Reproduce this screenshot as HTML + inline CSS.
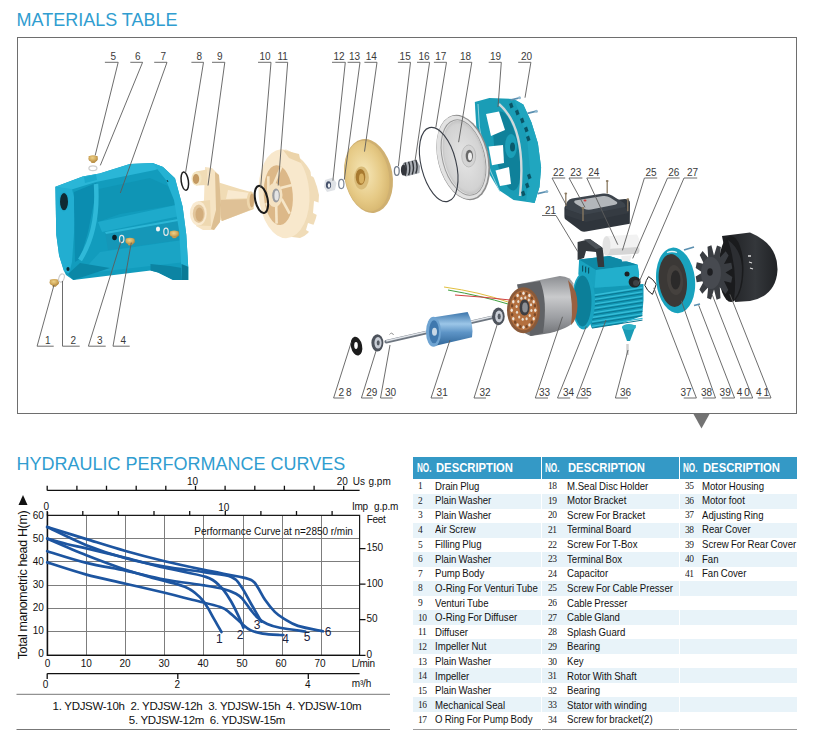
<!DOCTYPE html>
<html><head><meta charset="utf-8"><style>
html,body{margin:0;padding:0;background:#fff;width:818px;height:743px;overflow:hidden}
body{position:relative;font-family:"Liberation Sans", sans-serif}
.t{position:absolute;white-space:nowrap;line-height:1;font-family:"Liberation Sans", sans-serif}
</style></head><body>
<div class="t" style="left:16.5px;top:10.6px;font-size:18px;color:#309dd0">MATERIALS TABLE</div>
<div style="position:absolute;left:17px;top:37px;width:778px;height:375px;border:1px solid #6e6e6e"></div>
<svg style="position:absolute;left:0;top:0" width="818" height="743"><path d="M693.2 413.5H709.8L701.5 428.5Z" fill="#737373"/></svg>
<svg style="position:absolute;left:0;top:0" width="818" height="743" viewBox="0 0 818 743">
<defs>
<linearGradient id="teal" x1="0" y1="0" x2="1" y2="1"><stop offset="0" stop-color="#2fb3c9"/><stop offset="0.5" stop-color="#16a0b9"/><stop offset="1" stop-color="#0c7f97"/></linearGradient>
<linearGradient id="tealb" x1="0" y1="0" x2="1" y2="0"><stop offset="0" stop-color="#1d9fb8"/><stop offset="0.55" stop-color="#27adc4"/><stop offset="1" stop-color="#0f86a0"/></linearGradient>
<linearGradient id="beige" x1="0" y1="0" x2="1" y2="1"><stop offset="0" stop-color="#f6e8c6"/><stop offset="1" stop-color="#dcc491"/></linearGradient>
<radialGradient id="brass" cx="0.45" cy="0.4" r="0.7"><stop offset="0" stop-color="#edd28a"/><stop offset="0.6" stop-color="#cfa658"/><stop offset="1" stop-color="#a07a38"/></radialGradient>
<radialGradient id="impg" cx="0.45" cy="0.45" r="0.65"><stop offset="0" stop-color="#f6e7b8"/><stop offset="0.6" stop-color="#e6ca86"/><stop offset="1" stop-color="#d2b068"/></radialGradient>
<radialGradient id="silver" cx="0.5" cy="0.5" r="0.6"><stop offset="0" stop-color="#e6e6e6"/><stop offset="0.75" stop-color="#d2d2d2"/><stop offset="1" stop-color="#a8a8a8"/></radialGradient>
<linearGradient id="stator" x1="0" y1="0" x2="0" y2="1"><stop offset="0" stop-color="#8c8e92"/><stop offset="0.35" stop-color="#c9cacc"/><stop offset="0.7" stop-color="#9c9ea2"/><stop offset="1" stop-color="#6e7074"/></linearGradient>
<linearGradient id="rotor" x1="0" y1="0" x2="0" y2="1"><stop offset="0" stop-color="#3a74aa"/><stop offset="0.35" stop-color="#9cc6e8"/><stop offset="0.6" stop-color="#5d94c6"/><stop offset="1" stop-color="#2f6598"/></linearGradient>
<linearGradient id="black" x1="0" y1="0" x2="1" y2="0"><stop offset="0" stop-color="#1c1d20"/><stop offset="0.6" stop-color="#34373b"/><stop offset="1" stop-color="#202225"/></linearGradient>
</defs>
<path d="M55.4 186.7 L82.7 176.4 L99.6 173.6 L129.8 164.1 L152.4 163.0 L163.0 167.0 L175.0 178.3 L182.6 206.5 L186.3 234.8 L188.2 266.8 L188.2 280.0 L173.1 280.0 L158.0 272.5 L150.5 270.6 L73.3 280.0 L66.0 275.0 L63.8 270.6 L59.1 255.5 L56.3 234.8 Z" fill="#129cbd"/>
<path d="M94 190 L150 178 L168 186 L176 205 L120 214 L98 222Z" fill="#0f95b5"/>
<path d="M98 222 L176 205 L180 216 L102 232Z" fill="#1eaacb"/>
<path d="M105 232 L178 219 L181 240 L108 250Z" fill="#1597b8"/>
<path d="M105 232 L178 219 L178 221 L106 234Z" fill="#2db7d6"/>
<path d="M100 252 L183 240 L186 262 L150.5 266 L80 274Z" fill="#1aa4c5"/>
<path d="M150.5 264 L170 266 L182 268 L182 280 L173.1 280 L158 272.5 L150.5 270.6Z" fill="#0c84a3"/>
<path d="M55.4 186.7 L82.7 176.4 L99.6 173.6 L129.8 164.1 L152.4 163 L163 167 L155 170 L96 182 L70 190Z" fill="#2ab6d7"/>
<path d="M84 177 L96 174.5 L97 180 L85 183Z" fill="#1ba9cb"/>
<path d="M152.4 163 L163 167 L175 178.3 L182.6 206.5 L186.3 234.8 L188.2 266.8 L188.2 280 L182 280 L181 262 L179 230 L174 200 L166 180Z" fill="#25b2d3"/>
<path d="M181.5 264 L188.2 266.8 L188.2 280 L182 280Z" fill="#0a7a96"/>
<path d="M55.4 186.7 L72 189 L76 205 L72 262 L69 274 L63.8 270.6 L59.1 255.5 L56.3 234.8Z" fill="#22aed1"/>
<path d="M74 192 L96 183 L95 197 L88 232 L80.2 258.8 L75 262 L74 205Z" fill="#0b8db0"/>
<path d="M96 184 Q99 230 80 260" stroke="#2fb9d8" stroke-width="4.5" fill="none"/>
<path d="M68 274 L80 263 L110 268 L73.3 280Z" fill="#0b87a6"/>
<ellipse cx="63.8" cy="201.7" rx="5" ry="10" fill="#1fa9cc"/>
<ellipse cx="64" cy="201.7" rx="4" ry="8.6" fill="#0f2a33"/>
<ellipse cx="68" cy="269" rx="1.6" ry="2" fill="#0f2a33"/>
<ellipse cx="114.5" cy="237.5" rx="2.3" ry="2.8" fill="#0a1f26"/>
<ellipse cx="158" cy="229" rx="2.1" ry="2.6" fill="#f4f4f4"/>
<path d="M167 180 l1 2" stroke="#0a3a45" stroke-width="1"/>
<path d="M88.5 156.0 l9.0 0.0 l0.0 4.0 l-3.0 3.0 l-3.0 0.0Z" fill="url(#brass)"/><ellipse cx="93.0" cy="158.5" rx="4.6" ry="3.3" fill="url(#brass)"/>
<ellipse cx="92.9" cy="168.2" rx="4" ry="2.4" fill="none" stroke="#cfcfcf" stroke-width="1.3"/>
<path d="M49.7 279.8 l9.0 0.0 l0.0 4.0 l-3.0 3.0 l-3.0 0.0Z" fill="url(#brass)"/><ellipse cx="54.2" cy="282.3" rx="4.6" ry="3.3" fill="url(#brass)"/>
<ellipse cx="61.5" cy="278" rx="2.6" ry="4.2" fill="none" stroke="#cfcfcf" stroke-width="1.2" transform="rotate(20 61.5 278)"/>
<ellipse cx="121.7" cy="239" rx="2.2" ry="3.6" fill="none" stroke="#e8e8e8" stroke-width="1.2"/>
<path d="M125.5 238.5 l9.0 0.0 l0.0 4.0 l-3.0 3.0 l-3.0 0.0Z" fill="url(#brass)"/><ellipse cx="130.0" cy="241.0" rx="4.6" ry="3.3" fill="url(#brass)"/>
<ellipse cx="166" cy="231.8" rx="2.2" ry="3.6" fill="none" stroke="#e8e8e8" stroke-width="1.2"/>
<path d="M169.7 231.3 l9.0 0.0 l0.0 4.0 l-3.0 3.0 l-3.0 0.0Z" fill="url(#brass)"/><ellipse cx="174.2" cy="233.8" rx="4.6" ry="3.3" fill="url(#brass)"/>
<ellipse cx="184.8" cy="181.2" rx="3.6" ry="9.2" fill="none" stroke="#1e1e1e" stroke-width="1.5" transform="rotate(-8 184.8 181.2)"/>
<path d="M214 181 L240 189 L251 192 L254 209 L222 221 L212 214Z" fill="#f0dbb4"/>
<path d="M216 200 L252 199 L253 209 L222 221Z" fill="#dfc196"/>
<path d="M228 190 L250 193 L250 198 L226 199Z" fill="#f9ead0"/>
<ellipse cx="250.8" cy="200.5" rx="4" ry="9.2" fill="#eed6ac"/><ellipse cx="251.8" cy="200.5" rx="2.2" ry="7" fill="#cfa978"/>
<path d="M205 167 L212 168 L219 175 L221 205 L220 222 L214 230 L203 230 L196 226 L204 200Z" fill="#f6e4c4"/>
<path d="M215 172 L219 175 L221 205 L220 222 L214 230 L211 229 L216 210Z" fill="#ddbf92"/>
<path d="M196 171.5 L207 169.5 L207 185 L196 185.5Z" fill="#f0dcb6"/>
<ellipse cx="196.5" cy="178.5" rx="5" ry="7" fill="#f3e5c2"/><ellipse cx="196" cy="179" rx="3.2" ry="5" fill="#c49a62"/>
<path d="M198 201.5 L210 200 L211 226 L198 225.5Z" fill="#eed8b0"/>
<ellipse cx="198.3" cy="213.4" rx="8.4" ry="12.2" fill="#f9ead0"/><ellipse cx="198.8" cy="213.8" rx="6" ry="9.2" fill="#e2c69c"/><ellipse cx="199.5" cy="214.5" rx="4" ry="7" fill="#d2ad7c"/>
<path d="M286 149.5 Q312 160 319 195 Q318 232 300 238 L292 237 Q270 228 262 196 Q262 158 286 149.5Z" fill="#f0dcb8"/>
<ellipse cx="284" cy="193.7" rx="25.4" ry="44.5" fill="#f8e8cc" transform="rotate(-4 284 193.7)"/>
<path d="M310 166 L316 168 L316 178 L311 176Z M314 201 L320 203 L319 216 L313 213Z M308 223 L314 225 L311 233 L306 230Z" fill="#ffffff"/>
<path d="M283 150 L299 154 L301 163 L289 158Z" fill="#ecd4aa"/>
<ellipse cx="278.3" cy="195.1" rx="14.5" ry="30" fill="#dcb888" transform="rotate(-4 278.3 195.1)"/>
<path d="M281.6 198.8 L289.7 213.7" stroke="#f6e6c8" stroke-width="2.6"/>
<path d="M276.2 205.8 L276.6 223.6" stroke="#f6e6c8" stroke-width="2.6"/>
<path d="M269.6 202.1 L265.8 204.9" stroke="#f6e6c8" stroke-width="2.6"/>
<path d="M268.4 191.2 L268.3 176.3" stroke="#f6e6c8" stroke-width="2.6"/>
<path d="M273.8 184.2 L281.4 166.4" stroke="#f6e6c8" stroke-width="2.6"/>
<path d="M280.4 187.9 L292.2 185.1" stroke="#f6e6c8" stroke-width="2.6"/>
<ellipse cx="274.7" cy="195.1" rx="7.8" ry="12" fill="#f4e2c2"/>
<ellipse cx="276" cy="195.5" rx="3.8" ry="7" fill="#9a9ca0"/><ellipse cx="276.6" cy="195.5" rx="2.2" ry="5" fill="#e4e4e4"/>
<ellipse cx="261.4" cy="199.4" rx="6.2" ry="13.8" fill="none" stroke="#1a1a1a" stroke-width="2" transform="rotate(-12 261.4 199.4)"/>
<path d="M325 180 L333 177.5 L336.5 183 L335 190 L327 192 L324 187Z" fill="#dfe2e6"/>
<ellipse cx="328.5" cy="185" rx="2.6" ry="3.8" fill="#44506a"/><ellipse cx="329" cy="185.5" rx="1.2" ry="2.2" fill="#f0f2f4"/>
<ellipse cx="341.3" cy="184" rx="2.6" ry="4.6" fill="none" stroke="#7d8898" stroke-width="1.2"/>
<ellipse cx="368.5" cy="176" rx="24" ry="37.2" fill="#cfb071" transform="rotate(-10 368.5 176)"/>
<ellipse cx="367" cy="176" rx="22" ry="35.5" fill="url(#impg)" transform="rotate(-10 367 176)"/>
<ellipse cx="361.5" cy="178" rx="7.4" ry="11.4" fill="#d9bb78"/><ellipse cx="360.5" cy="177" rx="4.8" ry="8" fill="#a87a30"/><ellipse cx="361.5" cy="178.5" rx="2.5" ry="5" fill="#d8b060"/>
<ellipse cx="396.8" cy="171" rx="2.4" ry="4.4" fill="none" stroke="#6f7a8a" stroke-width="1.3"/>
<path d="M403 163 L416 159.5 L420 166 L419.5 173 L406 176.5 L402 170Z" fill="#a9adb3"/>
<path d="M405.0 162.5 Q407.5 169.0 405.0 176.0" stroke="#2f3338" stroke-width="1.4" fill="none"/>
<path d="M408.6 161.7 Q411.1 168.2 408.6 175.2" stroke="#2f3338" stroke-width="1.4" fill="none"/>
<path d="M412.2 160.9 Q414.7 167.4 412.2 174.4" stroke="#2f3338" stroke-width="1.4" fill="none"/>
<path d="M415.8 160.1 Q418.3 166.6 415.8 173.6" stroke="#2f3338" stroke-width="1.4" fill="none"/>
<ellipse cx="403.5" cy="170" rx="2.6" ry="5.5" fill="#33363c"/>
<path d="M474.8 102.1 L489.4 98.1 L513.6 98.9 L523.3 104.5 L531.4 122.3 L537.9 143.3 L541.1 167.6 L539.5 187.0 L534.6 203.1 L513.6 199.9 L499.1 190.2 L484.5 166.0 L476.5 130.4 Z" fill="#1a9db6"/>
<path d="M513.6 98.9 L523.3 104.5 L531.4 122.3 L537.9 143.3 L541.1 167.6 L539.5 187 L534.6 203.1 L526 201 L530 170 L527 138 L519 112Z" fill="#20a6bf"/>
<ellipse cx="507" cy="151" rx="12" ry="40" fill="#0f819a" transform="rotate(-10 507 151)"/>
<path d="M486 114 L499 111.5 L505 130 L491 136Z" fill="#ffffff"/>
<path d="M488.6 146.5 L503 145 L504 163 L492 165.3Z" fill="#ffffff"/>
<path d="M495.5 170.5 L509 167 L511 184 L500 186Z" fill="#ffffff"/>
<ellipse cx="511" cy="146" rx="6" ry="12" fill="#1b9fb8"/><ellipse cx="512.5" cy="147" rx="2.5" ry="4.5" fill="#0a5a6c"/>
<path d="M478 104 Q478 150 500 192" fill="none" stroke="#bfe6ee" stroke-width="0.7"/>
<path d="M499 104 Q527 128 520 196" fill="none" stroke="#d0d8da" stroke-width="2.4"/>
<path d="M509.0 104.0 l3 -1.5 l1.5 4.5 l-3 1.5Z" fill="#0a5566"/>
<path d="M515.0 111.0 l3 -1.5 l1.5 4.5 l-3 1.5Z" fill="#0a5566"/>
<path d="M520.0 119.0 l3 -1.5 l1.5 4.5 l-3 1.5Z" fill="#0a5566"/>
<path d="M524.0 128.0 l3 -1.5 l1.5 4.5 l-3 1.5Z" fill="#0a5566"/>
<path d="M526.0 137.0 l3 -1.5 l1.5 4.5 l-3 1.5Z" fill="#0a5566"/>
<path d="M527.0 175.0 l3 -1.5 l1.5 4.5 l-3 1.5Z" fill="#0a5566"/>
<path d="M525.0 184.0 l3 -1.5 l1.5 4.5 l-3 1.5Z" fill="#0a5566"/>
<path d="M521.0 192.0 l3 -1.5 l1.5 4.5 l-3 1.5Z" fill="#0a5566"/>
<path d="M519.5 97.8 l-9 2.2" stroke="#5a8fb0" stroke-width="1.8"/><circle cx="519.5" cy="97.8" r="1.5" fill="#8fb8d0"/>
<path d="M536.4 111.2 l-9 2.2" stroke="#5a8fb0" stroke-width="1.8"/><circle cx="536.4" cy="111.2" r="1.5" fill="#8fb8d0"/>
<path d="M546.8 191.5 l-9 2.2" stroke="#5a8fb0" stroke-width="1.8"/><circle cx="546.8" cy="191.5" r="1.5" fill="#8fb8d0"/>
<ellipse cx="463.2" cy="157.5" rx="25.5" ry="43.5" fill="#8e8e8e" transform="rotate(-14 463.2 157.5)"/>
<ellipse cx="462.5" cy="157.3" rx="24.5" ry="42.5" fill="#e2e2e2" transform="rotate(-14 462.5 157.3)"/>
<ellipse cx="463.5" cy="157.5" rx="21" ry="38.5" fill="none" stroke="#9a9a9a" stroke-width="1" transform="rotate(-14 463.5 157.5)"/>
<ellipse cx="464" cy="157.5" rx="20" ry="37.5" fill="url(#silver)" transform="rotate(-14 464 157.5)"/>
<ellipse cx="468.7" cy="156" rx="7" ry="11" fill="#d4d4d4" stroke="#b8b8b8" stroke-width="0.8"/>
<ellipse cx="469.3" cy="156" rx="3.6" ry="6.2" fill="#6a6a6a"/><ellipse cx="470" cy="156.5" rx="2" ry="4" fill="#f0f0f0"/>
<ellipse cx="438.7" cy="164.5" rx="17.5" ry="38" fill="none" stroke="#3a3f48" stroke-width="1.1" transform="rotate(-14 438.7 164.5)"/>
<path d="M564.4 209 Q564 206 567 205 L625 199 Q630 199 630 203 L629.8 223.7 L586 231.5 Q583 232 581 231 L565 219 Q564.4 218 564.4 216Z" fill="#2f353c"/>
<path d="M565.5 207 Q566 200 572 198.5 L603 193.5 Q608 193 612 195.5 L624 203 Q627 206 624 208.5 L590 215.5 Q585 216.5 581 214.5 L568 210 Q565 209 565.5 207Z" fill="#3d444c"/>
<path d="M566 209 L583 215 L625 207 L629 213 L586 222 L565 215Z" fill="#353b42"/>
<path d="M575 200.5 L603 196 Q607 195.5 610 197.5 L617 202 Q618 204 615 204.8 L591 209.5 Q587 210 584 208.8 L576 204 Q573 202 575 200.5Z" fill="#b3b7bb"/>
<ellipse cx="585" cy="200.5" rx="1.5" ry="0.9" fill="#d04040"/>
<path d="M565.8 193.5 V206.0" stroke="#8c7b62" stroke-width="1.3"/><ellipse cx="565.8" cy="193.5" rx="1.4" ry="0.9" fill="#8c7b62"/>
<path d="M607.2 181.0 V193.5" stroke="#8c7b62" stroke-width="1.3"/><ellipse cx="607.2" cy="181.0" rx="1.4" ry="0.9" fill="#8c7b62"/>
<path d="M627.8 199.2 V211.2" stroke="#8c7b62" stroke-width="1.3"/><ellipse cx="627.8" cy="199.2" rx="1.4" ry="0.9" fill="#8c7b62"/>
<path d="M583.0 208.0 V221.0" stroke="#8c7b62" stroke-width="1.3"/><ellipse cx="583.0" cy="208.0" rx="1.4" ry="0.9" fill="#8c7b62"/>
<path d="M588 286 L643.5 284 L643.5 300 L642 316 L620 324 L591.7 328 L585 310Z" fill="#1399b6"/>
<path d="M592 295.5 L642.5 287.5" stroke="#35bdd8" stroke-width="1.3"/>
<path d="M592 297.3 L642.5 289.3" stroke="#0a7691" stroke-width="1"/>
<path d="M592 299.9 L642.5 291.9" stroke="#35bdd8" stroke-width="1.3"/>
<path d="M592 301.7 L642.5 293.7" stroke="#0a7691" stroke-width="1"/>
<path d="M592 304.3 L642.5 296.3" stroke="#35bdd8" stroke-width="1.3"/>
<path d="M592 306.1 L642.5 298.1" stroke="#0a7691" stroke-width="1"/>
<path d="M592 308.7 L642.5 300.7" stroke="#35bdd8" stroke-width="1.3"/>
<path d="M592 310.5 L642.5 302.5" stroke="#0a7691" stroke-width="1"/>
<path d="M592 313.1 L642.5 305.1" stroke="#35bdd8" stroke-width="1.3"/>
<path d="M592 314.9 L642.5 306.9" stroke="#0a7691" stroke-width="1"/>
<path d="M592 317.5 L642.5 309.5" stroke="#35bdd8" stroke-width="1.3"/>
<path d="M592 319.3 L642.5 311.3" stroke="#0a7691" stroke-width="1"/>
<path d="M592 321.9 L642.5 313.9" stroke="#35bdd8" stroke-width="1.3"/>
<path d="M592 323.7 L642.5 315.7" stroke="#0a7691" stroke-width="1"/>
<path d="M592 326.3 L642.5 318.3" stroke="#35bdd8" stroke-width="1.3"/>
<path d="M592 328.1 L642.5 320.1" stroke="#0a7691" stroke-width="1"/>
<path d="M579.1 259.6 L609.4 255.9 L637.6 264.8 L639.1 274.4 L637.6 284.8 L594.6 287.8 L578.3 274.4Z" fill="#19a3c0"/>
<path d="M579.1 259.6 L609.4 255.9 L637.6 264.8 L596 270Z" fill="#0e89a6"/>
<path d="M596 270 L637.6 264.8 L639.1 274.4 L637.6 284.8 L594.6 287.8Z" fill="#22afcc"/>
<path d="M582 266 l1.2 -1 l0 6 l-1.2 1Z M585 267 l1.2 -1 l0 6 l-1.2 1Z M588 268 l1.2 -1 l0 6 l-1.2 1Z" fill="#0a5566"/>
<ellipse cx="583.5" cy="301" rx="11.5" ry="28.5" fill="#1aa4c1"/>
<ellipse cx="582.5" cy="301" rx="9" ry="25.5" fill="#0c7f99"/>
<ellipse cx="634.6" cy="282" rx="6" ry="5.5" fill="#232628"/><ellipse cx="636" cy="283" rx="3" ry="3" fill="#3e4246"/>
<ellipse cx="627" cy="274" rx="2.5" ry="2.5" fill="#1d2022"/>
<path d="M577.6 242 L590 238.9 L603 248 L604.3 267 L598 267 L596 252 L586 251 L584 258 L577.6 260Z" fill="#33383d"/>
<path d="M584 239.5 L590 238.9 L602 247.5 L596 249Z" fill="#4c5258"/>
<path d="M607 236 L637 234.4 Q643 244 638 253.7 L607 255.5 Q602 246 607 236Z" fill="#f2f2f2"/>
<path d="M607 249 L638 247 Q641 251 638 253.7 L607 255.5Z" fill="#d5d5d5"/>
<ellipse cx="606.5" cy="245.8" rx="4" ry="9.8" fill="#e2e2e2"/>
<path d="M621.3 256 L631.7 255.2 L630 261.1 L622 261.5Z" fill="#eeeeee"/>
<path d="M517.1 284.6 L559.9 276 Q571 277 573.3 283.3 L575.8 305.3 L572.1 323.7 Q560 333 530.6 335.9 L524.4 333 Z" fill="url(#stator)"/>
<path d="M568 280 Q578 290 577.5 306 Q577 320 571 325 Q574 305 568 280Z" fill="#9a6040"/>
<path d="M517.1 284.6 L540 281 Q548 300 543 333 L530.6 335.9 Z" fill="#606266"/>
<ellipse cx="523.5" cy="310.2" rx="16.5" ry="23" fill="#8a5a3a"/>
<ellipse cx="523.5" cy="310.2" rx="14" ry="20" fill="#b4703f"/>
<ellipse cx="535.3" cy="310.2" rx="1.2" ry="1.7" fill="#efe6dc"/>
<ellipse cx="534.9" cy="314.6" rx="1.2" ry="1.7" fill="#7a4a2a"/>
<ellipse cx="533.7" cy="318.7" rx="1.2" ry="1.7" fill="#efe6dc"/>
<ellipse cx="531.8" cy="322.2" rx="1.2" ry="1.7" fill="#7a4a2a"/>
<ellipse cx="529.4" cy="324.9" rx="1.2" ry="1.7" fill="#efe6dc"/>
<ellipse cx="526.6" cy="326.6" rx="1.2" ry="1.7" fill="#7a4a2a"/>
<ellipse cx="523.5" cy="327.2" rx="1.2" ry="1.7" fill="#efe6dc"/>
<ellipse cx="520.4" cy="326.6" rx="1.2" ry="1.7" fill="#7a4a2a"/>
<ellipse cx="517.6" cy="324.9" rx="1.2" ry="1.7" fill="#efe6dc"/>
<ellipse cx="515.2" cy="322.2" rx="1.2" ry="1.7" fill="#7a4a2a"/>
<ellipse cx="513.3" cy="318.7" rx="1.2" ry="1.7" fill="#efe6dc"/>
<ellipse cx="512.1" cy="314.6" rx="1.2" ry="1.7" fill="#7a4a2a"/>
<ellipse cx="511.7" cy="310.2" rx="1.2" ry="1.7" fill="#efe6dc"/>
<ellipse cx="512.1" cy="305.8" rx="1.2" ry="1.7" fill="#7a4a2a"/>
<ellipse cx="513.3" cy="301.7" rx="1.2" ry="1.7" fill="#efe6dc"/>
<ellipse cx="515.2" cy="298.2" rx="1.2" ry="1.7" fill="#7a4a2a"/>
<ellipse cx="517.6" cy="295.5" rx="1.2" ry="1.7" fill="#efe6dc"/>
<ellipse cx="520.4" cy="293.8" rx="1.2" ry="1.7" fill="#7a4a2a"/>
<ellipse cx="523.5" cy="293.2" rx="1.2" ry="1.7" fill="#efe6dc"/>
<ellipse cx="526.6" cy="293.8" rx="1.2" ry="1.7" fill="#7a4a2a"/>
<ellipse cx="529.4" cy="295.5" rx="1.2" ry="1.7" fill="#efe6dc"/>
<ellipse cx="531.8" cy="298.2" rx="1.2" ry="1.7" fill="#7a4a2a"/>
<ellipse cx="533.7" cy="301.7" rx="1.2" ry="1.7" fill="#efe6dc"/>
<ellipse cx="534.9" cy="305.8" rx="1.2" ry="1.7" fill="#7a4a2a"/>
<ellipse cx="531.4" cy="310.4" rx="1.1" ry="1.5" fill="#e6dccf"/>
<ellipse cx="529.7" cy="315.6" rx="1.1" ry="1.5" fill="#e6dccf"/>
<ellipse cx="526.6" cy="318.8" rx="1.1" ry="1.5" fill="#e6dccf"/>
<ellipse cx="522.7" cy="319.3" rx="1.1" ry="1.5" fill="#e6dccf"/>
<ellipse cx="519.2" cy="316.9" rx="1.1" ry="1.5" fill="#e6dccf"/>
<ellipse cx="517.0" cy="312.3" rx="1.1" ry="1.5" fill="#e6dccf"/>
<ellipse cx="516.6" cy="306.6" rx="1.1" ry="1.5" fill="#e6dccf"/>
<ellipse cx="518.3" cy="301.4" rx="1.1" ry="1.5" fill="#e6dccf"/>
<ellipse cx="521.4" cy="298.2" rx="1.1" ry="1.5" fill="#e6dccf"/>
<ellipse cx="525.3" cy="297.7" rx="1.1" ry="1.5" fill="#e6dccf"/>
<ellipse cx="528.8" cy="300.1" rx="1.1" ry="1.5" fill="#e6dccf"/>
<ellipse cx="531.0" cy="304.7" rx="1.1" ry="1.5" fill="#e6dccf"/>
<ellipse cx="524.5" cy="307.5" rx="5" ry="8" fill="#3e3e42"/>
<ellipse cx="525" cy="307.5" rx="2.8" ry="5" fill="#8d8f94"/>
<path d="M444 287 Q480 292 508 302" stroke="#e2c040" stroke-width="1" fill="none"/><path d="M448 290 Q482 296 508 304" stroke="#40a040" stroke-width="1" fill="none"/><path d="M455 295 Q485 297 510 300" stroke="#d04040" stroke-width="1" fill="none"/>
<path d="M386.2 341.7 L491.8 317.5" stroke="#6e7680" stroke-width="3.6" stroke-linecap="round"/>
<path d="M386.2 341 L491.8 316.8" stroke="#dfe3e8" stroke-width="1.4"/>
<path d="M432.4 317.5 L467.6 312 Q474 324 472 337.3 L434.6 346.1Z" fill="url(#rotor)"/>
<ellipse cx="433.5" cy="331.8" rx="7.5" ry="15" fill="#6fa4d2"/>
<ellipse cx="434" cy="331.8" rx="5" ry="11.5" fill="#3f78ae"/><ellipse cx="434.5" cy="331.8" rx="2.5" ry="4" fill="#c8d8e6"/>
<ellipse cx="498.4" cy="316.4" rx="6.3" ry="8.8" fill="#4d535c"/><ellipse cx="499" cy="316.4" rx="3.8" ry="6" fill="#c9ced6"/><ellipse cx="499.2" cy="316.4" rx="1.6" ry="2.8" fill="#555b63"/>
<ellipse cx="377.4" cy="342.8" rx="6" ry="8.6" fill="#4d535c"/><ellipse cx="378" cy="342.8" rx="3.6" ry="5.8" fill="#c9ced6"/><ellipse cx="378.2" cy="342.8" rx="1.5" ry="2.6" fill="#555b63"/>
<ellipse cx="356.5" cy="346.1" rx="5.6" ry="9.6" fill="#1c1c1c" transform="rotate(-12 356.5 346.1)"/><ellipse cx="356" cy="345.5" rx="1.8" ry="3.4" fill="#fff"/>
<path d="M389.5 334.5 q2.5 -3 4 0.5" stroke="#909090" stroke-width="1" fill="none"/>
<path d="M622 327 L636 325 L630 341 L627 341Z" fill="#1a9bb5"/><ellipse cx="629" cy="327" rx="7" ry="3" fill="#2cb0c6"/>
<path d="M627.5 344 v11" stroke="#d0d0d0" stroke-width="2.5"/>
<path d="M648.6 276.6 Q653 279 656.2 284.2 Q654.5 290 652.4 294.4 Q647 291 644.8 285.3 Q646 280 648.6 276.6Z" fill="none" stroke="#222" stroke-width="1"/>
<ellipse cx="675.6" cy="280.4" rx="19.4" ry="32.9" fill="#19a2bd" transform="rotate(-6 675.6 280.4)"/>
<ellipse cx="672.8" cy="280.5" rx="14" ry="26.5" fill="#3b3836" transform="rotate(-6 672.8 280.5)"/>
<ellipse cx="675" cy="280" rx="8" ry="15" fill="#45413e" transform="rotate(-6 675 280)"/>
<ellipse cx="675.6" cy="279.9" rx="4.8" ry="9.7" fill="#2b2a2a"/>
<path d="M667 252.5 Q672 250.5 677 252.5" stroke="#e8f4f6" stroke-width="1.3" fill="none"/>
<path d="M694 247 l-10 3" stroke="#5a8fb0" stroke-width="1.8"/><path d="M700 304 l-6 1.5" stroke="#5a8fb0" stroke-width="1.8"/>
<path d="M722 236 L750 232.5 Q778 244 777.5 270 Q776 296 750 301 L735 302 Z" fill="url(#black)"/>
<ellipse cx="731" cy="269" rx="12.5" ry="33" fill="#1a1b1d"/>
<path d="M728 240 Q742 250 742 270 Q742 290 734 300 Q738 270 728 240Z" fill="#2c2e32"/>
<path d="M748 256 l3 0 M749 262 l3 1 M750 268 l3 1" stroke="#dddddd" stroke-width="1.3"/>
<path d="M725.5 272.5 L732.3 276.9 L731.2 282.7 L724.0 281.0 L728.3 289.9 L725.4 294.1 L719.8 287.2 L720.5 298.2 L716.6 299.7 L714.0 289.5 L711.0 299.6 L707.1 298.0 L708.2 287.2 L702.3 293.8 L699.4 289.5 L704.0 281.0 L696.7 282.2 L695.7 276.4 L702.5 272.5 L695.7 268.1 L696.8 262.3 L704.0 264.0 L699.7 255.1 L702.6 250.9 L708.2 257.8 L707.5 246.8 L711.4 245.3 L714.0 255.5 L717.0 245.4 L720.9 247.0 L719.8 257.8 L725.7 251.2 L728.6 255.5 L724.0 264.0 L731.3 262.8 L732.3 268.6 Z" fill="#3a3d42"/>
<ellipse cx="711" cy="273" rx="10" ry="16" fill="#474a50"/><ellipse cx="710" cy="272" rx="2.8" ry="3.8" fill="#1e1f22"/>
<path d="M104.9 62.3H118.2L95.2 155.4 M130.3 62.3H142.6L100.3 165.4 M154.2 62.3H167.0L120.3 193.0 M191.4 62.3H203.5L185.5 173.0 M212.0 62.3H224.8L208.0 185.5 M258.0 62.3H271.0L260.6 188.0 M275.4 62.3H287.7L278.2 185.5 M332.0 62.3H345.3L332.9 180.7 M347.6 62.3H360.0L344.3 179.6 M364.4 62.3H377.0L364.5 151.6 M397.9 62.3H410.5L398.4 166.0 M417.0 62.3H429.6L415.0 161.0 M433.9 62.3H446.5L435.8 127.7 M459.2 62.3H471.8L458.6 142.2 M488.7 62.3H501.3L498.0 107.0 M518.2 62.3H530.9L525.0 97.7 M552.0 178H565.2 M552.0 178L566.3 205.1 M569.0 178H582.4 M569.0 178L585.0 207.3 M586.8 178H600.0 M586.8 178L617.8 244.7 M644.4 178H657.2 M644.4 178L622.4 250.4 M667.5 178H679.6 M667.5 178L632.7 258.4 M684.0 178H697.2 M684.0 178L638.4 283.6 M542 215.5H556L577.8 251.6 M37.1 346.2H53.7 M37.1 346.2L54.0 285.0 M62.5 346.2H79.7 M62.5 346.2L62.5 281.0 M88.4 346.2H105.7 M88.4 346.2L121.5 240.0 M113.0 346.2H129.7 M113.0 346.2L131.3 242.6 M333.6 398H344.2 M333.6 398L351.2 342.5 M361.4 398H372.8 M361.4 398L376.0 351.0 M380.5 398H392.6 M380.5 398L390.0 345.0 M431.0 398H443.0 M431.0 398L450.0 340.0 M474.0 398H486.0 M474.0 398L498.0 322.0 M535.3 398H548.0 M535.3 398L562.5 316.8 M557.5 398H570.2 M557.5 398L586.3 326.3 M576.6 398H588.3 M576.6 398L606.0 320.0 M615.4 398H628.0 M615.4 398L628.0 350.0 M683.7 398H696.4 M696.4 398L653.8 287.9 M702.8 398H715.5 M715.5 398L681.3 300.7 M721.8 398H734.6 M734.6 398L698.7 305.3 M740.0 398H752.7 M752.7 398L712.4 295.2 M757.8 398H771.0 M771.0 398L729.9 294.3" stroke="#5c5c5c" stroke-width="0.9" fill="none"/>
<g font-family="Liberation Sans, sans-serif" font-size="10" fill="#3a3a3a"><text x="110.5" y="59.5">5</text><text x="135.0" y="59.5">6</text><text x="160.6" y="59.5">7</text><text x="196.5" y="59.5">8</text><text x="217.0" y="59.5">9</text><text x="259.4" y="59.5">10</text><text x="277.4" y="59.5">11</text><text x="333.5" y="59.5">12</text><text x="349.0" y="59.5">13</text><text x="365.8" y="59.5">14</text><text x="399.6" y="59.5">15</text><text x="418.4" y="59.5">16</text><text x="435.3" y="59.5">17</text><text x="460.0" y="59.5">18</text><text x="490.0" y="59.5">19</text><text x="521.0" y="59.5">20</text><text x="553.0" y="176.0">22</text><text x="570.3" y="176.0">23</text><text x="588.3" y="176.0">24</text><text x="645.5" y="176.0">25</text><text x="668.2" y="176.0">26</text><text x="687.0" y="176.0">27</text><text x="545.0" y="213.5">21</text><text x="45.0" y="344.3">1</text><text x="70.5" y="344.3">2</text><text x="97.0" y="344.3">3</text><text x="120.5" y="344.3">4</text><text x="338.5" y="396.0">2&#8201;8</text><text x="366.2" y="396.0">29</text><text x="385.0" y="396.0">30</text><text x="436.6" y="396.0">31</text><text x="479.5" y="396.0">32</text><text x="539.0" y="396.0">33</text><text x="563.0" y="396.0">34</text><text x="580.4" y="396.0">35</text><text x="620.0" y="396.0">36</text><text x="680.5" y="396.0">37</text><text x="701.0" y="396.0">38</text><text x="719.6" y="396.0">39</text><text x="736.8" y="396.0">4&#8201;0</text><text x="755.9" y="396.0">4&#8201;1</text></g>
</svg>
<div class="t" style="left:16.5px;top:455px;font-size:18px;color:#309dd0">HYDRAULIC PERFORMANCE CURVES</div>
<svg style="position:absolute;left:0;top:0" width="818" height="743" viewBox="0 0 818 743">
<path d="M86.5 515.3V655.3 M125.5 515.3V655.3 M164.5 515.3V655.3 M203.5 515.3V655.3 M243.5 515.3V655.3 M282.5 515.3V655.3 M321.5 515.3V655.3 M47.2 631.5H359.6 M47.2 608.5H359.6 M47.2 585.5H359.6 M47.2 561.5H359.6 M47.2 538.5H359.6" stroke="#7d7d7d" stroke-width="1" fill="none"/>
<path d="M47.2 515.3H359.6V655.3H47.2Z" stroke="#1a1a1a" stroke-width="1.2" fill="none"/>
<path d="M47.2 655.3H359.6" stroke="#111" stroke-width="1.3" fill="none"/>
<path d="M47.6 512V655.3" stroke="#111" stroke-width="1.2" fill="none"/>
<path d="M47.2 490.4H359.6 M47.2 490.4V485.8 M76.9 490.4V485.8 M106.5 490.4V485.8 M136.2 490.4V485.8 M165.8 490.4V485.8 M195.5 490.4V485.8 M225.1 490.4V485.8 M254.8 490.4V485.8 M284.4 490.4V485.8 M314.1 490.4V485.8 M343.7 490.4V485.8" stroke="#111" stroke-width="1.3" fill="none"/>
<path d="M47.2 515.3V511 M82.8 515.3V511 M118.4 515.3V511 M154.0 515.3V511 M189.7 515.3V511 M225.3 515.3V511 M260.9 515.3V511 M296.5 515.3V511 M332.1 515.3V511" stroke="#111" stroke-width="1.3" fill="none"/>
<path d="M359.6 655.3H365.5 M359.6 619.7H365.5 M359.6 584.2H365.5 M359.6 548.6H365.5" stroke="#111" stroke-width="1.2" fill="none"/>
<path d="M47.2 673.6H359.6 M47.2 673.6V679 M177.8 673.6V679 M308.3 673.6V679" stroke="#111" stroke-width="1.3" fill="none"/>
<path d="M47.2 527.0 C53.7 529.0 73.3 535.1 86.4 539.1 C99.4 543.1 112.5 547.3 125.5 551.0 C138.6 554.7 151.7 558.1 164.7 561.3 C177.8 564.4 191.0 567.2 203.9 569.9 C216.8 572.6 234.1 575.5 242.3 577.4 C250.4 579.2 250.2 579.4 252.8 581.1 C255.5 582.8 255.9 584.5 257.9 587.6 C260.0 590.8 262.2 595.7 265.0 599.8 C267.8 603.8 271.6 608.7 274.8 611.9 C278.0 615.1 280.3 616.6 284.2 618.9 C288.0 621.2 291.4 623.8 297.9 625.9 C304.4 628.0 318.8 630.4 323.0 631.3" stroke="#1d55a0" stroke-width="2.7" fill="none" stroke-linecap="round"/>
<path d="M47.2 527.0 C53.7 530.0 73.3 540.0 86.4 545.2 C99.4 550.4 112.5 554.7 125.5 558.2 C138.6 561.8 151.7 564.3 164.7 566.6 C177.8 569.0 192.8 570.5 203.9 572.2 C215.0 574.0 225.1 574.5 231.3 576.9 C237.5 579.3 237.8 582.0 241.1 586.5 C244.4 590.9 248.1 598.6 250.9 603.5 C253.7 608.4 256.2 612.6 257.9 615.6 C259.7 618.7 260.9 620.7 261.5 621.7" stroke="#1d55a0" stroke-width="2.7" fill="none" stroke-linecap="round"/>
<path d="M47.2 538.6 C50.6 539.6 61.0 542.6 67.6 544.2 C74.1 545.9 76.7 546.2 86.4 548.4 C96.0 550.7 112.5 554.6 125.5 557.8 C138.6 561.0 151.3 564.6 164.7 567.8 C178.1 571.0 196.6 573.8 205.8 576.9 C215.1 580.0 216.3 582.7 220.3 586.5 C224.4 590.3 227.1 594.9 230.1 599.8 C233.1 604.6 236.1 611.0 238.3 615.6 C240.6 620.3 242.6 625.7 243.4 627.8" stroke="#1d55a0" stroke-width="2.7" fill="none" stroke-linecap="round"/>
<path d="M47.2 551.2 C53.7 553.2 73.3 559.7 86.4 562.9 C99.4 566.1 112.5 567.9 125.5 570.6 C138.6 573.4 151.7 577.0 164.7 579.5 C177.8 581.9 194.1 583.7 203.9 585.3 C213.7 586.9 218.1 587.6 223.5 589.0 C228.8 590.4 232.9 592.1 236.0 593.7 C239.1 595.3 239.9 596.0 242.3 598.6 C244.7 601.3 247.9 606.3 250.5 609.6 C253.1 612.8 255.1 615.6 257.9 618.0 C260.7 620.4 263.7 622.4 267.3 624.0 C271.0 625.7 273.5 626.5 279.9 627.8 C286.2 629.0 301.1 630.9 305.3 631.5" stroke="#1d55a0" stroke-width="2.7" fill="none" stroke-linecap="round"/>
<path d="M47.2 538.6 C53.7 541.4 73.3 550.0 86.4 555.2 C99.4 560.4 114.9 566.0 125.5 569.7 C136.2 573.3 141.1 574.6 150.2 577.1 C159.3 579.7 173.3 583.0 180.0 585.1 C186.6 587.1 187.5 588.1 190.2 589.5 C192.8 590.9 194.0 592.0 196.0 593.7 C198.1 595.4 200.3 597.3 202.3 599.8 C204.3 602.2 206.2 605.2 208.2 608.4 C210.1 611.6 211.8 615.2 214.1 619.1 C216.3 623.1 220.3 629.8 221.5 632.0" stroke="#1d55a0" stroke-width="2.7" fill="none" stroke-linecap="round"/>
<path d="M47.2 562.4 C53.7 564.5 73.3 571.0 86.4 574.6 C99.4 578.1 112.5 580.6 125.5 583.7 C138.6 586.7 153.9 590.2 164.7 592.8 C175.5 595.4 180.9 596.9 190.2 599.3 C199.4 601.7 213.7 604.7 220.3 607.0 C227.0 609.3 226.5 610.2 230.1 613.1 C233.8 615.9 238.9 621.2 242.3 624.0 C245.7 626.9 247.1 628.5 250.5 630.1 C253.9 631.7 257.7 632.8 262.6 633.6 C267.5 634.4 276.4 634.8 279.9 635.0 C283.3 635.2 282.8 635.0 283.4 635.0" stroke="#1d55a0" stroke-width="2.7" fill="none" stroke-linecap="round"/>
<path d="M16.5 694.3H390 M16.5 729.5H390" stroke="#777" stroke-width="1" fill="none"/>
<path d="M18.5 505H27.5L23 495Z" fill="#111"/>
</svg>
<div class="t" style="left:192.5px;top:476.7px;font-size:10.0px;color:#111;transform:translateX(-50%);">10</div>
<div class="t" style="left:336.8px;top:476.6px;font-size:10.0px;color:#111;">20</div>
<div class="t" style="left:352.7px;top:476.6px;font-size:10.0px;color:#111;">Us</div>
<div class="t" style="left:368.5px;top:476.6px;font-size:10.0px;color:#111;">g.pm</div>
<div class="t" style="left:43.6px;top:501.7px;font-size:10.0px;color:#111;">0</div>
<div class="t" style="left:223.7px;top:502.7px;font-size:10.0px;color:#111;transform:translateX(-50%);">10</div>
<div class="t" style="left:352.1px;top:501.9px;font-size:10.0px;color:#111;letter-spacing:-0.3px">Imp</div>
<div class="t" style="left:374.1px;top:501.9px;font-size:10.0px;color:#111;letter-spacing:-0.2px">g.p.m</div>
<div class="t" style="left:366.7px;top:515.2px;font-size:10.0px;color:#111;letter-spacing:-0.3px">Feet</div>
<div class="t" style="left:194.3px;top:527.2px;font-size:10.0px;color:#111;letter-spacing:-0.02px">Performance Curve at n=2850 r/min</div>
<div class="t" style="right:774.2px;top:648.9px;font-size:10.0px;color:#111;">0</div>
<div class="t" style="right:774.2px;top:625.9px;font-size:10.0px;color:#111;">10</div>
<div class="t" style="right:774.2px;top:602.9px;font-size:10.0px;color:#111;">20</div>
<div class="t" style="right:774.2px;top:580.0px;font-size:10.0px;color:#111;">30</div>
<div class="t" style="right:774.2px;top:557.0px;font-size:10.0px;color:#111;">40</div>
<div class="t" style="right:774.2px;top:534.0px;font-size:10.0px;color:#111;">50</div>
<div class="t" style="right:774.2px;top:511.0px;font-size:10.0px;color:#111;">60</div>
<div class="t" style="left:47.5px;top:658.7px;font-size:10.0px;color:#111;transform:translateX(-50%);">0</div>
<div class="t" style="left:86.2px;top:658.7px;font-size:10.0px;color:#111;transform:translateX(-50%);">10</div>
<div class="t" style="left:125.1px;top:658.7px;font-size:10.0px;color:#111;transform:translateX(-50%);">20</div>
<div class="t" style="left:164.1px;top:658.7px;font-size:10.0px;color:#111;transform:translateX(-50%);">30</div>
<div class="t" style="left:203.1px;top:658.7px;font-size:10.0px;color:#111;transform:translateX(-50%);">40</div>
<div class="t" style="left:242.1px;top:658.7px;font-size:10.0px;color:#111;transform:translateX(-50%);">50</div>
<div class="t" style="left:281.0px;top:658.7px;font-size:10.0px;color:#111;transform:translateX(-50%);">60</div>
<div class="t" style="left:320.0px;top:658.7px;font-size:10.0px;color:#111;transform:translateX(-50%);">70</div>
<div class="t" style="left:351.8px;top:659.0px;font-size:10.0px;color:#111;letter-spacing:-0.3px">L/min</div>
<div class="t" style="left:366.5px;top:649.5px;font-size:10.0px;color:#111;">0</div>
<div class="t" style="left:366.5px;top:613.9px;font-size:10.0px;color:#111;">50</div>
<div class="t" style="left:366.5px;top:578.9px;font-size:10.0px;color:#111;">100</div>
<div class="t" style="left:366.5px;top:543.1px;font-size:10.0px;color:#111;">150</div>
<div class="t" style="left:45.6px;top:680.2px;font-size:10.0px;color:#111;transform:translateX(-50%);">0</div>
<div class="t" style="left:177.4px;top:680.2px;font-size:10.0px;color:#111;transform:translateX(-50%);">2</div>
<div class="t" style="left:307.9px;top:680.2px;font-size:10.0px;color:#111;transform:translateX(-50%);">4</div>
<div class="t" style="left:351.8px;top:679.2px;font-size:10.0px;color:#111;letter-spacing:-0.2px">m&sup3;/h</div>
<div class="t" style="left:219.3px;top:632.7px;font-size:12.0px;color:#1a2240;transform:translateX(-50%);">1</div>
<div class="t" style="left:240.0px;top:629.1px;font-size:12.0px;color:#1a2240;transform:translateX(-50%);">2</div>
<div class="t" style="left:257.2px;top:619.4px;font-size:12.0px;color:#1a2240;transform:translateX(-50%);">3</div>
<div class="t" style="left:285.5px;top:632.9px;font-size:12.0px;color:#1a2240;transform:translateX(-50%);">4</div>
<div class="t" style="left:307.0px;top:630.9px;font-size:12.0px;color:#1a2240;transform:translateX(-50%);">5</div>
<div class="t" style="left:328.0px;top:625.5px;font-size:12.0px;color:#1a2240;transform:translateX(-50%);">6</div>
<div class="t" style="left:22.5px;top:584.5px;font-size:12.5px;color:#111;transform:translate(-50%,-50%) rotate(-90deg);letter-spacing:-0.35px">Total manometric head H(m)</div>
<div class="t" style="left:20.2px;width:373.5px;top:698.5px;font-size:11.5px;color:#111;text-align:center;letter-spacing:-0.3px;line-height:14px">1. YDJSW-10h&nbsp; 2. YDJSW-12h&nbsp; 3. YDJSW-15h&nbsp; 4. YDJSW-10m<br>5. YDJSW-12m&nbsp; 6. YDJSW-15m</div>
<div style="position:absolute;left:413.1px;top:456.9px;width:127.8px;height:22.3px;background:#3499c6"></div>
<div class="t" style="left:416.5px;top:462.1px;font-size:12.5px;color:#fff;font-weight:bold;transform:scaleX(0.65);transform-origin:0 0">NO.</div>
<div class="t" style="left:435.6px;top:461.9px;font-size:12.5px;color:#fff;font-weight:bold;transform:scaleX(0.9);transform-origin:0 0">DESCRIPTION</div>
<div style="position:absolute;left:413.1px;top:493.7px;width:127.8px;height:14.9px;background:#e8f3f9"></div>
<div style="position:absolute;left:413.1px;top:522.8px;width:127.8px;height:14.9px;background:#e8f3f9"></div>
<div style="position:absolute;left:413.1px;top:551.9px;width:127.8px;height:14.9px;background:#e8f3f9"></div>
<div style="position:absolute;left:413.1px;top:580.9px;width:127.8px;height:14.9px;background:#e8f3f9"></div>
<div style="position:absolute;left:413.1px;top:610.0px;width:127.8px;height:14.9px;background:#e8f3f9"></div>
<div style="position:absolute;left:413.1px;top:639.0px;width:127.8px;height:14.9px;background:#e8f3f9"></div>
<div style="position:absolute;left:413.1px;top:668.1px;width:127.8px;height:14.9px;background:#e8f3f9"></div>
<div style="position:absolute;left:413.1px;top:697.1px;width:127.8px;height:14.9px;background:#e8f3f9"></div>
<div class="t" style="left:417.6px;top:481.1px;font-size:10.5px;color:#222;font-family:'Liberation Serif',serif;transform:scaleX(0.9);transform-origin:0 0;letter-spacing:-0.5px">1</div>
<div class="t" style="left:435.1px;top:480.5px;font-size:10.5px;color:#111;transform:scaleX(0.915);transform-origin:0 0;word-spacing:-0.5px">Drain Plug</div>
<div class="t" style="left:417.6px;top:495.7px;font-size:10.5px;color:#222;font-family:'Liberation Serif',serif;transform:scaleX(0.9);transform-origin:0 0;letter-spacing:-0.5px">2</div>
<div class="t" style="left:435.1px;top:495.1px;font-size:10.5px;color:#111;transform:scaleX(0.915);transform-origin:0 0;word-spacing:-0.5px">Plain Washer</div>
<div class="t" style="left:417.6px;top:510.3px;font-size:10.5px;color:#222;font-family:'Liberation Serif',serif;transform:scaleX(0.9);transform-origin:0 0;letter-spacing:-0.5px">3</div>
<div class="t" style="left:435.1px;top:509.7px;font-size:10.5px;color:#111;transform:scaleX(0.915);transform-origin:0 0;word-spacing:-0.5px">Plain Washer</div>
<div class="t" style="left:417.6px;top:525.0px;font-size:10.5px;color:#222;font-family:'Liberation Serif',serif;transform:scaleX(0.9);transform-origin:0 0;letter-spacing:-0.5px">4</div>
<div class="t" style="left:435.1px;top:524.4px;font-size:10.5px;color:#111;transform:scaleX(0.915);transform-origin:0 0;word-spacing:-0.5px">Air Screw</div>
<div class="t" style="left:417.6px;top:539.6px;font-size:10.5px;color:#222;font-family:'Liberation Serif',serif;transform:scaleX(0.9);transform-origin:0 0;letter-spacing:-0.5px">5</div>
<div class="t" style="left:435.1px;top:539.0px;font-size:10.5px;color:#111;transform:scaleX(0.915);transform-origin:0 0;word-spacing:-0.5px">Filling Plug</div>
<div class="t" style="left:417.6px;top:554.2px;font-size:10.5px;color:#222;font-family:'Liberation Serif',serif;transform:scaleX(0.9);transform-origin:0 0;letter-spacing:-0.5px">6</div>
<div class="t" style="left:435.1px;top:553.6px;font-size:10.5px;color:#111;transform:scaleX(0.915);transform-origin:0 0;word-spacing:-0.5px">Plain Washer</div>
<div class="t" style="left:417.6px;top:568.8px;font-size:10.5px;color:#222;font-family:'Liberation Serif',serif;transform:scaleX(0.9);transform-origin:0 0;letter-spacing:-0.5px">7</div>
<div class="t" style="left:435.1px;top:568.2px;font-size:10.5px;color:#111;transform:scaleX(0.915);transform-origin:0 0;word-spacing:-0.5px">Pump Body</div>
<div class="t" style="left:417.6px;top:583.4px;font-size:10.5px;color:#222;font-family:'Liberation Serif',serif;transform:scaleX(0.9);transform-origin:0 0;letter-spacing:-0.5px">8</div>
<div class="t" style="left:435.1px;top:582.8px;font-size:10.5px;color:#111;transform:scaleX(0.915);transform-origin:0 0;word-spacing:-0.5px">O-Ring For Venturi Tube</div>
<div class="t" style="left:417.6px;top:598.1px;font-size:10.5px;color:#222;font-family:'Liberation Serif',serif;transform:scaleX(0.9);transform-origin:0 0;letter-spacing:-0.5px">9</div>
<div class="t" style="left:435.1px;top:597.5px;font-size:10.5px;color:#111;transform:scaleX(0.915);transform-origin:0 0;word-spacing:-0.5px">Venturi Tube</div>
<div class="t" style="left:417.6px;top:612.7px;font-size:10.5px;color:#222;font-family:'Liberation Serif',serif;transform:scaleX(0.9);transform-origin:0 0;letter-spacing:-0.5px">10</div>
<div class="t" style="left:435.1px;top:612.1px;font-size:10.5px;color:#111;transform:scaleX(0.915);transform-origin:0 0;word-spacing:-0.5px">O-Ring For Diffuser</div>
<div class="t" style="left:417.6px;top:627.3px;font-size:10.5px;color:#222;font-family:'Liberation Serif',serif;transform:scaleX(0.9);transform-origin:0 0;letter-spacing:-0.5px">11</div>
<div class="t" style="left:435.1px;top:626.7px;font-size:10.5px;color:#111;transform:scaleX(0.915);transform-origin:0 0;word-spacing:-0.5px">Diffuser</div>
<div class="t" style="left:417.6px;top:641.9px;font-size:10.5px;color:#222;font-family:'Liberation Serif',serif;transform:scaleX(0.9);transform-origin:0 0;letter-spacing:-0.5px">12</div>
<div class="t" style="left:435.1px;top:641.3px;font-size:10.5px;color:#111;transform:scaleX(0.915);transform-origin:0 0;word-spacing:-0.5px">Impeller Nut</div>
<div class="t" style="left:417.6px;top:656.5px;font-size:10.5px;color:#222;font-family:'Liberation Serif',serif;transform:scaleX(0.9);transform-origin:0 0;letter-spacing:-0.5px">13</div>
<div class="t" style="left:435.1px;top:655.9px;font-size:10.5px;color:#111;transform:scaleX(0.915);transform-origin:0 0;word-spacing:-0.5px">Plain Washer</div>
<div class="t" style="left:417.6px;top:671.2px;font-size:10.5px;color:#222;font-family:'Liberation Serif',serif;transform:scaleX(0.9);transform-origin:0 0;letter-spacing:-0.5px">14</div>
<div class="t" style="left:435.1px;top:670.6px;font-size:10.5px;color:#111;transform:scaleX(0.915);transform-origin:0 0;word-spacing:-0.5px">Impeller</div>
<div class="t" style="left:417.6px;top:685.8px;font-size:10.5px;color:#222;font-family:'Liberation Serif',serif;transform:scaleX(0.9);transform-origin:0 0;letter-spacing:-0.5px">15</div>
<div class="t" style="left:435.1px;top:685.2px;font-size:10.5px;color:#111;transform:scaleX(0.915);transform-origin:0 0;word-spacing:-0.5px">Plain Washer</div>
<div class="t" style="left:417.6px;top:700.4px;font-size:10.5px;color:#222;font-family:'Liberation Serif',serif;transform:scaleX(0.9);transform-origin:0 0;letter-spacing:-0.5px">16</div>
<div class="t" style="left:435.1px;top:699.8px;font-size:10.5px;color:#111;transform:scaleX(0.915);transform-origin:0 0;word-spacing:-0.5px">Mechanical Seal</div>
<div class="t" style="left:417.6px;top:715.0px;font-size:10.5px;color:#222;font-family:'Liberation Serif',serif;transform:scaleX(0.9);transform-origin:0 0;letter-spacing:-0.5px">17</div>
<div class="t" style="left:435.1px;top:714.4px;font-size:10.5px;color:#111;transform:scaleX(0.915);transform-origin:0 0;word-spacing:-0.5px">O Ring For Pump Body</div>
<div style="position:absolute;left:413.1px;top:729px;width:127.8px;height:1.2px;background:#9c9c9c"></div>
<div style="position:absolute;left:542.0px;top:456.9px;width:137.0px;height:22.3px;background:#3499c6"></div>
<div class="t" style="left:545.4px;top:462.1px;font-size:12.5px;color:#fff;font-weight:bold;transform:scaleX(0.65);transform-origin:0 0">NO.</div>
<div class="t" style="left:567.8px;top:461.9px;font-size:12.5px;color:#fff;font-weight:bold;transform:scaleX(0.9);transform-origin:0 0">DESCRIPTION</div>
<div style="position:absolute;left:542.0px;top:493.7px;width:137.0px;height:14.9px;background:#e8f3f9"></div>
<div style="position:absolute;left:542.0px;top:522.8px;width:137.0px;height:14.9px;background:#e8f3f9"></div>
<div style="position:absolute;left:542.0px;top:551.9px;width:137.0px;height:14.9px;background:#e8f3f9"></div>
<div style="position:absolute;left:542.0px;top:580.9px;width:137.0px;height:14.9px;background:#e8f3f9"></div>
<div style="position:absolute;left:542.0px;top:610.0px;width:137.0px;height:14.9px;background:#e8f3f9"></div>
<div style="position:absolute;left:542.0px;top:639.0px;width:137.0px;height:14.9px;background:#e8f3f9"></div>
<div style="position:absolute;left:542.0px;top:668.1px;width:137.0px;height:14.9px;background:#e8f3f9"></div>
<div style="position:absolute;left:542.0px;top:697.1px;width:137.0px;height:14.9px;background:#e8f3f9"></div>
<div class="t" style="left:547.7px;top:481.1px;font-size:10.5px;color:#222;font-family:'Liberation Serif',serif;transform:scaleX(0.9);transform-origin:0 0;letter-spacing:-0.5px">18</div>
<div class="t" style="left:567.3px;top:480.5px;font-size:10.5px;color:#111;transform:scaleX(0.915);transform-origin:0 0;word-spacing:-0.5px">M.Seal Disc Holder</div>
<div class="t" style="left:547.7px;top:495.7px;font-size:10.5px;color:#222;font-family:'Liberation Serif',serif;transform:scaleX(0.9);transform-origin:0 0;letter-spacing:-0.5px">19</div>
<div class="t" style="left:567.3px;top:495.1px;font-size:10.5px;color:#111;transform:scaleX(0.915);transform-origin:0 0;word-spacing:-0.5px">Motor Bracket</div>
<div class="t" style="left:547.7px;top:510.3px;font-size:10.5px;color:#222;font-family:'Liberation Serif',serif;transform:scaleX(0.9);transform-origin:0 0;letter-spacing:-0.5px">20</div>
<div class="t" style="left:567.3px;top:509.7px;font-size:10.5px;color:#111;transform:scaleX(0.915);transform-origin:0 0;word-spacing:-0.5px">Screw For Bracket</div>
<div class="t" style="left:547.7px;top:525.0px;font-size:10.5px;color:#222;font-family:'Liberation Serif',serif;transform:scaleX(0.9);transform-origin:0 0;letter-spacing:-0.5px">21</div>
<div class="t" style="left:567.3px;top:524.4px;font-size:10.5px;color:#111;transform:scaleX(0.915);transform-origin:0 0;word-spacing:-0.5px">Terminal Board</div>
<div class="t" style="left:547.7px;top:539.6px;font-size:10.5px;color:#222;font-family:'Liberation Serif',serif;transform:scaleX(0.9);transform-origin:0 0;letter-spacing:-0.5px">22</div>
<div class="t" style="left:567.3px;top:539.0px;font-size:10.5px;color:#111;transform:scaleX(0.915);transform-origin:0 0;word-spacing:-0.5px">Screw For T-Box</div>
<div class="t" style="left:547.7px;top:554.2px;font-size:10.5px;color:#222;font-family:'Liberation Serif',serif;transform:scaleX(0.9);transform-origin:0 0;letter-spacing:-0.5px">23</div>
<div class="t" style="left:567.3px;top:553.6px;font-size:10.5px;color:#111;transform:scaleX(0.915);transform-origin:0 0;word-spacing:-0.5px">Terminal Box</div>
<div class="t" style="left:547.7px;top:568.8px;font-size:10.5px;color:#222;font-family:'Liberation Serif',serif;transform:scaleX(0.9);transform-origin:0 0;letter-spacing:-0.5px">24</div>
<div class="t" style="left:567.3px;top:568.2px;font-size:10.5px;color:#111;transform:scaleX(0.915);transform-origin:0 0;word-spacing:-0.5px">Capacitor</div>
<div class="t" style="left:547.7px;top:583.4px;font-size:10.5px;color:#222;font-family:'Liberation Serif',serif;transform:scaleX(0.9);transform-origin:0 0;letter-spacing:-0.5px">25</div>
<div class="t" style="left:567.3px;top:582.8px;font-size:10.5px;color:#111;transform:scaleX(0.915);transform-origin:0 0;word-spacing:-0.5px">Screw For Cable Presser</div>
<div class="t" style="left:547.7px;top:598.1px;font-size:10.5px;color:#222;font-family:'Liberation Serif',serif;transform:scaleX(0.9);transform-origin:0 0;letter-spacing:-0.5px">26</div>
<div class="t" style="left:567.3px;top:597.5px;font-size:10.5px;color:#111;transform:scaleX(0.915);transform-origin:0 0;word-spacing:-0.5px">Cable Presser</div>
<div class="t" style="left:547.7px;top:612.7px;font-size:10.5px;color:#222;font-family:'Liberation Serif',serif;transform:scaleX(0.9);transform-origin:0 0;letter-spacing:-0.5px">27</div>
<div class="t" style="left:567.3px;top:612.1px;font-size:10.5px;color:#111;transform:scaleX(0.915);transform-origin:0 0;word-spacing:-0.5px">Cable Gland</div>
<div class="t" style="left:547.7px;top:627.3px;font-size:10.5px;color:#222;font-family:'Liberation Serif',serif;transform:scaleX(0.9);transform-origin:0 0;letter-spacing:-0.5px">28</div>
<div class="t" style="left:567.3px;top:626.7px;font-size:10.5px;color:#111;transform:scaleX(0.915);transform-origin:0 0;word-spacing:-0.5px">Splash Guard</div>
<div class="t" style="left:547.7px;top:641.9px;font-size:10.5px;color:#222;font-family:'Liberation Serif',serif;transform:scaleX(0.9);transform-origin:0 0;letter-spacing:-0.5px">29</div>
<div class="t" style="left:567.3px;top:641.3px;font-size:10.5px;color:#111;transform:scaleX(0.915);transform-origin:0 0;word-spacing:-0.5px">Bearing</div>
<div class="t" style="left:547.7px;top:656.5px;font-size:10.5px;color:#222;font-family:'Liberation Serif',serif;transform:scaleX(0.9);transform-origin:0 0;letter-spacing:-0.5px">30</div>
<div class="t" style="left:567.3px;top:655.9px;font-size:10.5px;color:#111;transform:scaleX(0.915);transform-origin:0 0;word-spacing:-0.5px">Key</div>
<div class="t" style="left:547.7px;top:671.2px;font-size:10.5px;color:#222;font-family:'Liberation Serif',serif;transform:scaleX(0.9);transform-origin:0 0;letter-spacing:-0.5px">31</div>
<div class="t" style="left:567.3px;top:670.6px;font-size:10.5px;color:#111;transform:scaleX(0.915);transform-origin:0 0;word-spacing:-0.5px">Rotor With Shaft</div>
<div class="t" style="left:547.7px;top:685.8px;font-size:10.5px;color:#222;font-family:'Liberation Serif',serif;transform:scaleX(0.9);transform-origin:0 0;letter-spacing:-0.5px">32</div>
<div class="t" style="left:567.3px;top:685.2px;font-size:10.5px;color:#111;transform:scaleX(0.915);transform-origin:0 0;word-spacing:-0.5px">Bearing</div>
<div class="t" style="left:547.7px;top:700.4px;font-size:10.5px;color:#222;font-family:'Liberation Serif',serif;transform:scaleX(0.9);transform-origin:0 0;letter-spacing:-0.5px">33</div>
<div class="t" style="left:567.3px;top:699.8px;font-size:10.5px;color:#111;transform:scaleX(0.915);transform-origin:0 0;word-spacing:-0.5px">Stator with winding</div>
<div class="t" style="left:547.7px;top:715.0px;font-size:10.5px;color:#222;font-family:'Liberation Serif',serif;transform:scaleX(0.9);transform-origin:0 0;letter-spacing:-0.5px">34</div>
<div class="t" style="left:567.3px;top:714.4px;font-size:10.5px;color:#111;transform:scaleX(0.915);transform-origin:0 0;word-spacing:-0.5px">Screw for bracket(2)</div>
<div style="position:absolute;left:542.0px;top:729px;width:137.0px;height:1.2px;background:#9c9c9c"></div>
<div style="position:absolute;left:680.0px;top:456.9px;width:116.9px;height:22.3px;background:#3499c6"></div>
<div class="t" style="left:683.4px;top:462.1px;font-size:12.5px;color:#fff;font-weight:bold;transform:scaleX(0.65);transform-origin:0 0">NO.</div>
<div class="t" style="left:702.8px;top:461.9px;font-size:12.5px;color:#fff;font-weight:bold;transform:scaleX(0.9);transform-origin:0 0">DESCRIPTION</div>
<div style="position:absolute;left:680.0px;top:493.7px;width:116.9px;height:14.9px;background:#e8f3f9"></div>
<div style="position:absolute;left:680.0px;top:522.8px;width:116.9px;height:14.9px;background:#e8f3f9"></div>
<div style="position:absolute;left:680.0px;top:551.9px;width:116.9px;height:14.9px;background:#e8f3f9"></div>
<div style="position:absolute;left:680.0px;top:580.9px;width:116.9px;height:14.9px;background:#e8f3f9"></div>
<div style="position:absolute;left:680.0px;top:610.0px;width:116.9px;height:14.9px;background:#e8f3f9"></div>
<div style="position:absolute;left:680.0px;top:639.0px;width:116.9px;height:14.9px;background:#e8f3f9"></div>
<div style="position:absolute;left:680.0px;top:668.1px;width:116.9px;height:14.9px;background:#e8f3f9"></div>
<div style="position:absolute;left:680.0px;top:697.1px;width:116.9px;height:14.9px;background:#e8f3f9"></div>
<div class="t" style="left:684.5px;top:481.1px;font-size:10.5px;color:#222;font-family:'Liberation Serif',serif;transform:scaleX(0.9);transform-origin:0 0;letter-spacing:-0.5px">35</div>
<div class="t" style="left:702.3px;top:480.5px;font-size:10.5px;color:#111;transform:scaleX(0.915);transform-origin:0 0;word-spacing:-0.5px">Motor Housing</div>
<div class="t" style="left:684.5px;top:495.7px;font-size:10.5px;color:#222;font-family:'Liberation Serif',serif;transform:scaleX(0.9);transform-origin:0 0;letter-spacing:-0.5px">36</div>
<div class="t" style="left:702.3px;top:495.1px;font-size:10.5px;color:#111;transform:scaleX(0.915);transform-origin:0 0;word-spacing:-0.5px">Motor foot</div>
<div class="t" style="left:684.5px;top:510.3px;font-size:10.5px;color:#222;font-family:'Liberation Serif',serif;transform:scaleX(0.9);transform-origin:0 0;letter-spacing:-0.5px">37</div>
<div class="t" style="left:702.3px;top:509.7px;font-size:10.5px;color:#111;transform:scaleX(0.915);transform-origin:0 0;word-spacing:-0.5px">Adjusting Ring</div>
<div class="t" style="left:684.5px;top:525.0px;font-size:10.5px;color:#222;font-family:'Liberation Serif',serif;transform:scaleX(0.9);transform-origin:0 0;letter-spacing:-0.5px">38</div>
<div class="t" style="left:702.3px;top:524.4px;font-size:10.5px;color:#111;transform:scaleX(0.915);transform-origin:0 0;word-spacing:-0.5px">Rear Cover</div>
<div class="t" style="left:684.5px;top:539.6px;font-size:10.5px;color:#222;font-family:'Liberation Serif',serif;transform:scaleX(0.9);transform-origin:0 0;letter-spacing:-0.5px">39</div>
<div class="t" style="left:702.3px;top:539.0px;font-size:10.5px;color:#111;transform:scaleX(0.915);transform-origin:0 0;word-spacing:-0.5px">Screw For Rear Cover</div>
<div class="t" style="left:684.5px;top:554.2px;font-size:10.5px;color:#222;font-family:'Liberation Serif',serif;transform:scaleX(0.9);transform-origin:0 0;letter-spacing:-0.5px">40</div>
<div class="t" style="left:702.3px;top:553.6px;font-size:10.5px;color:#111;transform:scaleX(0.915);transform-origin:0 0;word-spacing:-0.5px">Fan</div>
<div class="t" style="left:684.5px;top:568.8px;font-size:10.5px;color:#222;font-family:'Liberation Serif',serif;transform:scaleX(0.9);transform-origin:0 0;letter-spacing:-0.5px">41</div>
<div class="t" style="left:702.3px;top:568.2px;font-size:10.5px;color:#111;transform:scaleX(0.915);transform-origin:0 0;word-spacing:-0.5px">Fan Cover</div>
<div style="position:absolute;left:680.0px;top:729px;width:116.9px;height:1.2px;background:#9c9c9c"></div>
</body></html>
